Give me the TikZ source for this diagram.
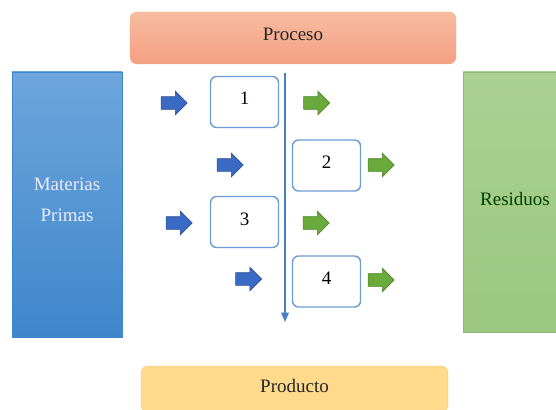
\documentclass[tikz,border=0pt]{standalone}
\usepackage{fontspec}
\setmainfont{Liberation Serif}
\usetikzlibrary{arrows}
\usetikzlibrary{shapes.arrows}

\definecolor{procfill}{HTML}{F49F82}
\definecolor{proctop}{HTML}{F7BCA0}
\definecolor{procline}{HTML}{F0B090}
\definecolor{mattop}{HTML}{6EA5DC}
\definecolor{matbot}{HTML}{3E87CC}
\definecolor{restop}{HTML}{AAD192}
\definecolor{resbot}{HTML}{9BC77F}
\definecolor{resline}{HTML}{8DB873}
\definecolor{prodfill}{HTML}{FFD98C}
\definecolor{prodline}{HTML}{F7CB6A}
\definecolor{stepline}{HTML}{6C9DD6}
\definecolor{flowline}{HTML}{4A7DC7}
\definecolor{inblue}{HTML}{3A6AC4}
\definecolor{inblueline}{HTML}{2C4F92}
\definecolor{outgreen}{HTML}{6AAA3A}
\definecolor{outgreenline}{HTML}{4B8429}

\tikzset{
  lifted/.style={text height=12, text depth=6},
  stagebox/.style={lifted, draw=stepline, line width=1.4pt, fill=white, rounded corners=6pt,
    minimum width=68, minimum height=51},
  inarrow/.style={single arrow, draw=inblueline, fill=inblue, line width=0.6pt, inner sep=6pt,
    single arrow head extend=5.5, minimum height=26},
  outarrow/.style={single arrow, draw=outgreenline, fill=outgreen, line width=0.6pt, inner sep=6pt,
    single arrow head extend=5.5, minimum height=26},
}

\begin{document}
\begin{tikzpicture}[x=1pt,y=-1pt,font=\fontsize{19}{31}\selectfont]
\useasboundingbox (0,0) rectangle (556,409);

% side and top blocks
\node[lifted, draw=procline, top color=proctop, bottom color=procfill, rounded corners=7pt,
  minimum width=326, minimum height=52, text=black!85] (proceso) at (293,38) {Proceso};
\node[draw=matbot, top color=mattop, bottom color=matbot, minimum width=110,
  minimum height=265] (materias) at (67,204.5) {};
\node[align=center, text=white!92!blue] (matlabel) at (67,200) {Materias\\Primas};
\node[lifted, draw=resline, top color=restop, bottom color=resbot, minimum width=104,
  minimum height=260, text=green!25!black] (residuos) at (515,202) {Residuos};
\node[lifted, draw=prodline, fill=prodfill, rounded corners=7pt, minimum width=307,
  minimum height=46, text=black!85] (producto) at (294.5,389) {Producto};

% process line
\coordinate (flowtop) at (285,73);
\coordinate (flowend) at (285,322);
\draw[flowline, line width=1.2pt, -triangle 45] (flowtop) -- (flowend);

% stages
\node[stagebox] (s1) at (244.5,102) {1};
\node[stagebox] (s2) at (326.5,165.5) {2};
\node[stagebox] (s3) at (244.5,222) {3};
\node[stagebox] (s4) at (326.5,281.5) {4};

% inputs
\node[inarrow] (in1) at (171,103) {};
\node[inarrow] (in2) at (227,165) {};
\node[inarrow] (in3) at (176,223) {};
\node[inarrow] (in4) at (245.5,279) {};

% outputs
\node[outarrow] (out1) at (313.5,103) {};
\node[outarrow] (out2) at (378,165) {};
\node[outarrow] (out3) at (313,223) {};
\node[outarrow] (out4) at (378,280) {};
\end{tikzpicture}
\end{document}
